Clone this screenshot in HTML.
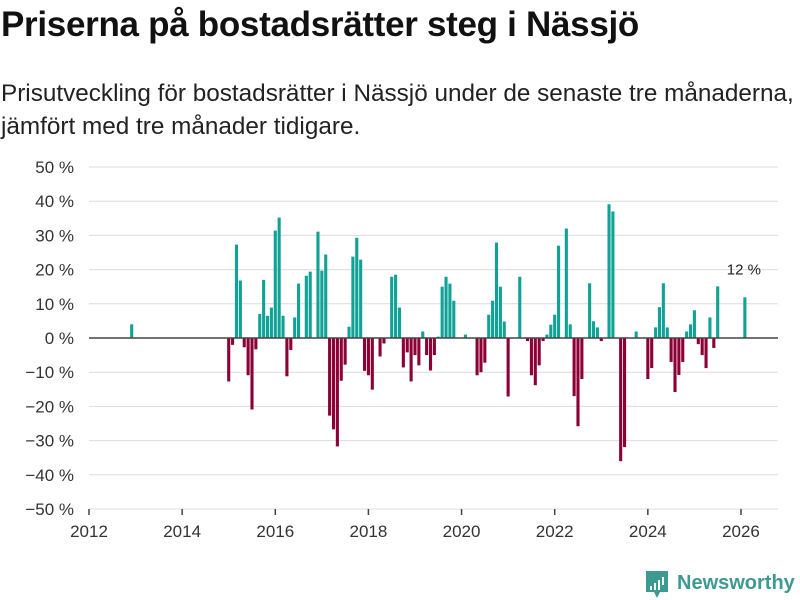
<!DOCTYPE html>
<html><head><meta charset="utf-8"><style>
body{margin:0;background:#fff;font-family:"Liberation Sans",sans-serif;}
#wrap{position:relative;width:800px;height:600px;overflow:hidden;}
h1{position:absolute;left:1px;top:5px;margin:0;font-size:35px;font-weight:bold;color:#111;letter-spacing:-0.3px;white-space:nowrap;}
#sub{position:absolute;left:1px;top:77px;margin:0;font-size:24.3px;line-height:33px;color:#222;white-space:nowrap;}
svg{position:absolute;left:0;top:0;}
</style></head><body>
<div id="wrap">
<h1>Priserna på bostadsrätter steg i Nässjö</h1>
<p id="sub">Prisutveckling för bostadsrätter i Nässjö under de senaste tre månaderna,<br>jämfört med tre månader tidigare.</p>
<svg id="chart" width="800" height="600"></svg>
</div>
<script>
// month index: 0 = Jan 2012
const months = [11,36,37,38,39,40,41,42,43,44,45,46,47,48,49,50,51,52,53,54,56,57,59,60,61,62,63,64,65,66,67,68,69,70,71,72,73,75,76,78,79,80,81,82,83,84,85,86,87,88,89,90,91,92,93,94,97,100,101,102,103,104,105,106,107,108,111,113,114,115,116,117,118,119,120,121,123,124,125,126,127,129,130,131,132,134,135,137,138,141,144,145,146,147,148,149,150,151,152,153,154,155,156,157,158,159,160,161,162,169];
const values = [4,-12.7,-2,27.3,16.8,-2.7,-10.9,-20.9,-3.3,7,17,6.5,8.9,31.4,35.2,6.5,-11.2,-3.5,6,15.9,18.2,19.4,31.1,19.7,24.4,-22.7,-26.7,-31.7,-12.5,-7.8,3.3,23.8,29.3,22.9,-9.6,-10.9,-15.1,-5.4,-1.6,17.9,18.5,8.9,-8.6,-4.2,-12.7,-5,-8,1.9,-5,-9.5,-5,0.4,15,17.9,15.9,10.9,1,-10.9,-10,-7.2,6.8,10.9,27.9,15,4.8,-17.1,17.9,-0.9,-10.9,-13.8,-8,-0.9,1,3.9,6.8,27,32,4,-17,-25.8,-12,16,4.9,3.1,-0.9,39.1,37,-36,-31.9,1.9,-12,-8.8,3.1,9,16,3.1,-7,-15.8,-10.8,-7,1.9,4,8.1,-1.8,-5,-8.8,6,-2.9,15.1,11.9];
const yTicks = [50,40,30,20,10,0,-10,-20,-30,-40,-50];
const yTickLabels = ["50 %","40 %","30 %","20 %","10 %","0 %","−10 %","−20 %","−30 %","−40 %","−50 %"];
const xTicks = [2012,2014,2016,2018,2020,2022,2024,2026];
const lastLabel = "12 %";

const svg = document.getElementById('chart');
const NS = 'http://www.w3.org/2000/svg';
const y = v => 338 - v * 3.42;
const xYear = yr => 89 + (yr - 2012) * 46.57;
const xMonth = m => 89 + m * 46.57 / 12;
function mk(tag, attrs){const e=document.createElementNS(NS,tag);for(const k in attrs)e.setAttribute(k,attrs[k]);svg.appendChild(e);return e;}

yTicks.forEach((t,i)=>{
  if(t!==0){
    const g=mk('line',{x1:89,x2:778,y1:y(t),y2:y(t),stroke:'#dcdcdc','stroke-width':1});
    
    
  }
  const l=mk('text',{x:74,y:y(t)+6,'text-anchor':'end','font-size':17,fill:'#333'});
  l.textContent=yTickLabels[i];
  
  
});
xTicks.forEach(t=>{
  const tk=mk('line',{x1:xYear(t),x2:xYear(t),y1:509,y2:515,stroke:'#444','stroke-width':1.5});
  
  
  const l=mk('text',{x:xYear(t),y:537,'text-anchor':'middle','font-size':17,fill:'#333'});
  l.textContent=t;
  
  
});
months.forEach((m,i)=>{
  const v=values[i];
  const top=Math.min(y(v),y(0)), h=Math.abs(y(v)-y(0));
  const b=mk('rect',{x:xMonth(m)-1.55,y:top,width:3.1,height:Math.max(h,0.5),fill:v>=0?'#10a296':'#8c0036'});
  
  
});
const zl=mk('line',{x1:89,x2:778,y1:y(0),y2:y(0),stroke:'#444','stroke-width':1.5});


const li=months.length-1;
const ll=mk('text',{x:xMonth(months[li])-1,y:y(values[li])-23,'text-anchor':'middle','font-size':15,fill:'#222'});
ll.textContent=lastLabel;



// logo
const lg=mk('g',{});


const ic=document.createElementNS(NS,'path');
ic.setAttribute('d','M646 571 h22 v21 h-8 l-3 6 l-3 -6 h-8 z');
ic.setAttribute('fill','#3d9a93');
lg.appendChild(ic);
[[650,586,2,4],[654,583,2,7],[658,580,2,10],[662,577,2,8]].forEach(r=>{
  const e=document.createElementNS(NS,'rect');
  e.setAttribute('x',r[0]);e.setAttribute('y',r[1]);e.setAttribute('width',r[2]);e.setAttribute('height',r[3]);e.setAttribute('fill','#fff');
  lg.appendChild(e);
});
const lt=document.createElementNS(NS,'text');
lt.setAttribute('x',677);lt.setAttribute('y',589);lt.setAttribute('font-size',20);lt.setAttribute('font-weight','bold');lt.setAttribute('fill','#3d9a93');
lt.textContent='Newsworthy';
lg.appendChild(lt);
</script>
</body></html>
